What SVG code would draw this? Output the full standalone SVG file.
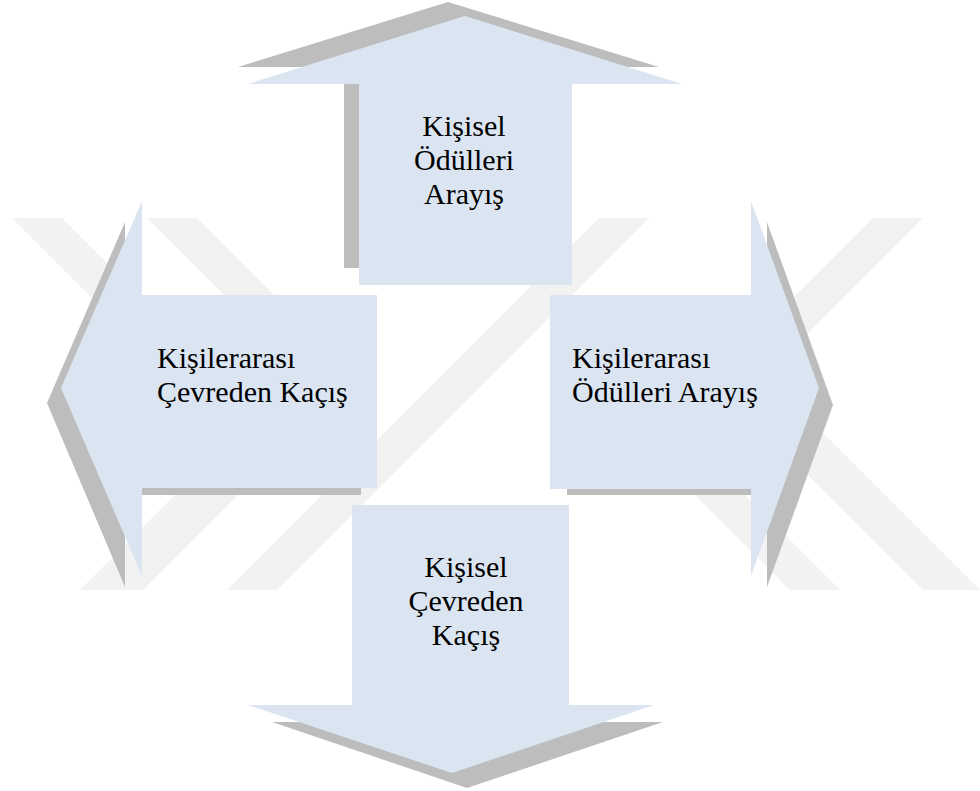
<svg xmlns="http://www.w3.org/2000/svg" width="980" height="791" viewBox="0 0 980 791">
<defs>
<style>
.wm{fill:#F2F2F2}
.sh{fill:#BDBDBD}
.ar{fill:#DBE5F1}
.t{font-family:"Liberation Serif","Times New Roman",serif;font-size:30px;fill:#000}
.c{text-anchor:middle}
</style>
</defs>
<rect width="980" height="791" fill="#FFFFFF"/>
<g id="watermark">
<polygon class="wm" points="12,218 62,218 248,404 198,404"/>
<polygon class="wm" points="147,218 197,218 369,390 319,390"/>
<polygon class="wm" points="80,590 143,590 329,404 266,404"/>
<polygon class="wm" points="599,218 649,218 277,590 227,590"/>
<polygon class="wm" points="873,218 923,218 737,404 687,404"/>
<polygon class="wm" points="923,590 980,590 794,404 737,404"/>
<polygon class="wm" points="790,590 840,590 654,404 604,404"/>
</g>
<g id="node-top">
<polygon class="sh" points="448,2 659,67 551,67 551,268 344,268 344,67 238,67"/>
<polygon class="ar" points="465,16 682,84 572,84 572,285 359,285 359,84 248,84"/>
<text class="t c" x="464" y="136">Kişisel</text>
<text class="t c" x="464" y="170">Ödülleri</text>
<text class="t c" x="464" y="204">Arayış</text>
</g>
<g id="node-left">
<polygon class="sh" points="47,403 125,222 125,302 361,302 361,495 125,495 125,587"/>
<polygon class="ar" points="61,388 142,201 142,295 377,295 377,488 142,488 142,576"/>
<text class="t" x="157" y="368">Kişilerarası</text>
<text class="t" x="157" y="402">Çevreden Kaçış</text>
</g>
<g id="node-right">
<polygon class="sh" points="567,302 767,302 767,222 833,405 767,587 767,495 567,495"/>
<polygon class="ar" points="550,295 751,295 751,201 819,388 751,576 751,489 550,489"/>
<text class="t" x="572" y="368">Kişilerarası</text>
<text class="t" x="572" y="402">Ödülleri Arayış</text>
</g>
<g id="node-bottom">
<polygon class="sh" points="272,722 663,722 467,788"/>
<polygon class="ar" points="352,505 569,505 569,705 654,705 452,773 248,705 352,705"/>
<text class="t c" x="466" y="577">Kişisel</text>
<text class="t c" x="466" y="611">Çevreden</text>
<text class="t c" x="466" y="645">Kaçış</text>
</g>
<g id="connectors"></g>
</svg>
